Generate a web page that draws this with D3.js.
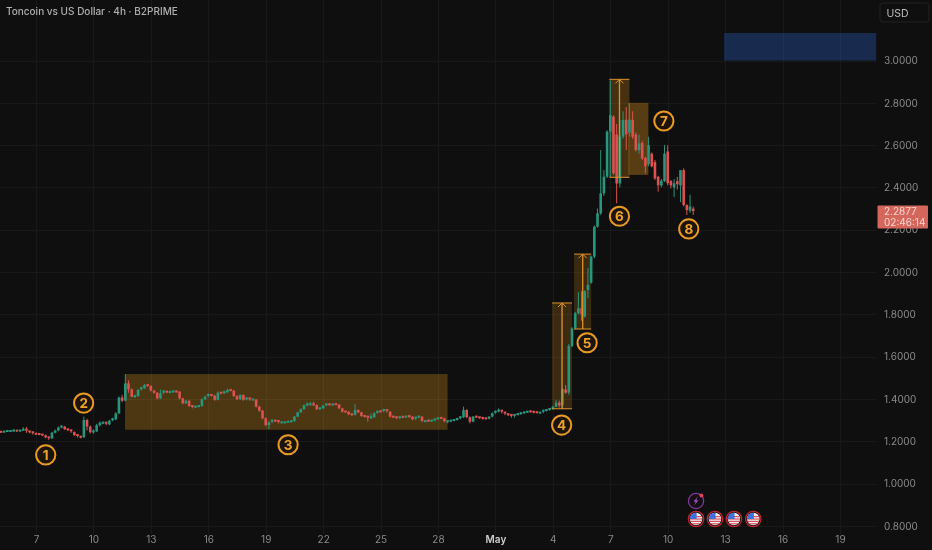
<!DOCTYPE html>
<html><head><meta charset="utf-8">
<script src="https://cdn.jsdelivr.net/npm/d3@7/dist/d3.min.js"></script>
<style>
html,body{margin:0;padding:0;background:#0f0f0f;overflow:hidden}
svg{display:block;font-family:Inter,"Noto Sans",sans-serif;filter:blur(0.35px)}
</style></head><body>
<svg id="c" width="932" height="550"></svg>
<script>
const titleText="Toncoin vs US Dollar · 4h · B2PRIME";
const currency="USD";
const lastPrice="2.2877";
const countdown="02:46:14";
const priceTicks=[3.0,2.8,2.6,2.4,2.2,2.0,1.8,1.6,1.4,1.2,1.0,0.8];
const dateTickDays=[0,3,6,9,12,15,18,21,24,27,30,33,36,39,42];
const dateTickLabels=["7","10","13","16","19","22","25","28","May","4","7","10","13","16","19"];

const opens=[1.245,1.243,1.246,1.249,1.249,1.251,1.249,1.251,1.255,1.247,
1.243,1.236,1.235,1.232,1.229,1.219,1.214,1.241,1.251,1.265,
1.270,1.257,1.252,1.244,1.230,1.222,1.219,1.301,1.270,1.243,
1.247,1.277,1.286,1.288,1.280,1.298,1.304,1.332,1.407,1.392,
1.474,1.446,1.411,1.414,1.443,1.451,1.466,1.462,1.440,1.430,
1.403,1.427,1.435,1.431,1.433,1.436,1.435,1.403,1.380,1.392,
1.367,1.361,1.364,1.367,1.399,1.411,1.419,1.416,1.396,1.430,
1.427,1.432,1.443,1.440,1.414,1.399,1.419,1.396,1.403,1.396,
1.398,1.364,1.345,1.309,1.277,1.290,1.298,1.296,1.288,1.287,
1.290,1.293,1.295,1.317,1.337,1.352,1.370,1.374,1.375,1.372,
1.352,1.356,1.369,1.375,1.372,1.376,1.374,1.356,1.341,1.340,
1.328,1.325,1.348,1.337,1.320,1.317,1.312,1.314,1.333,1.342,
1.340,1.348,1.340,1.317,1.314,1.309,1.316,1.314,1.319,1.317,
1.304,1.312,1.317,1.294,1.298,1.296,1.298,1.304,1.311,1.309,
1.293,1.295,1.298,1.301,1.306,1.314,1.348,1.314,1.293,1.317,
1.314,1.311,1.309,1.307,1.317,1.333,1.340,1.345,1.336,1.328,
1.325,1.317,1.325,1.329,1.333,1.337,1.342,1.340,1.338,1.334,
1.336,1.345,1.348,1.353,1.364,1.383,1.370,1.445,1.430,1.651,
1.734,1.805,1.830,1.790,1.915,1.950,2.073,2.215,2.278,2.372,
2.451,2.664,2.735,2.650,2.419,2.640,2.720,2.660,2.720,2.650,
2.577,2.610,2.540,2.510,2.560,2.520,2.450,2.410,2.430,2.570,
2.430,2.400,2.430,2.410,2.482,2.317,2.290,2.300];
const highs=[1.250,1.250,1.254,1.253,1.257,1.254,1.254,1.267,1.268,1.250,
1.246,1.240,1.238,1.235,1.232,1.222,1.245,1.256,1.270,1.276,
1.272,1.260,1.255,1.247,1.233,1.226,1.317,1.307,1.275,1.256,
1.283,1.294,1.294,1.293,1.302,1.312,1.338,1.412,1.420,1.518,
1.488,1.450,1.420,1.448,1.458,1.472,1.470,1.465,1.443,1.432,
1.445,1.442,1.438,1.440,1.442,1.441,1.437,1.406,1.396,1.394,
1.370,1.368,1.372,1.403,1.417,1.426,1.421,1.420,1.436,1.433,
1.440,1.449,1.446,1.443,1.418,1.423,1.422,1.408,1.406,1.402,
1.400,1.368,1.349,1.314,1.296,1.303,1.302,1.299,1.293,1.294,
1.296,1.299,1.320,1.340,1.356,1.375,1.384,1.386,1.388,1.375,
1.360,1.373,1.378,1.378,1.379,1.379,1.376,1.359,1.344,1.343,
1.331,1.377,1.351,1.340,1.323,1.320,1.332,1.337,1.345,1.346,
1.354,1.351,1.343,1.320,1.318,1.318,1.320,1.322,1.325,1.320,
1.316,1.322,1.319,1.299,1.303,1.300,1.306,1.312,1.314,1.311,
1.298,1.300,1.303,1.309,1.317,1.364,1.352,1.318,1.320,1.320,
1.316,1.314,1.312,1.320,1.337,1.345,1.356,1.348,1.339,1.331,
1.328,1.329,1.332,1.336,1.340,1.344,1.345,1.343,1.341,1.339,
1.349,1.352,1.357,1.368,1.396,1.393,1.447,1.466,1.660,1.740,
1.812,1.905,1.910,1.915,2.020,2.078,2.220,2.300,2.577,2.482,
2.670,2.905,2.740,2.700,2.720,2.760,2.780,2.797,2.760,2.660,
2.650,2.620,2.545,2.640,2.565,2.530,2.455,2.440,2.600,2.600,
2.435,2.440,2.450,2.482,2.490,2.320,2.365,2.310];
const lows=[1.240,1.241,1.244,1.245,1.245,1.246,1.246,1.249,1.240,1.238,
1.232,1.232,1.229,1.226,1.215,1.207,1.212,1.238,1.248,1.262,
1.254,1.249,1.240,1.226,1.218,1.214,1.217,1.252,1.238,1.236,
1.245,1.270,1.281,1.276,1.277,1.295,1.300,1.330,1.385,1.390,
1.430,1.408,1.405,1.410,1.440,1.448,1.458,1.436,1.425,1.398,
1.400,1.424,1.428,1.428,1.430,1.430,1.398,1.375,1.376,1.362,
1.356,1.358,1.360,1.364,1.395,1.408,1.412,1.392,1.394,1.423,
1.424,1.429,1.436,1.410,1.396,1.396,1.392,1.394,1.392,1.392,
1.360,1.340,1.304,1.272,1.257,1.286,1.292,1.284,1.285,1.284,
1.287,1.290,1.293,1.314,1.334,1.349,1.366,1.370,1.368,1.348,
1.348,1.353,1.366,1.370,1.370,1.371,1.353,1.336,1.337,1.324,
1.321,1.322,1.334,1.316,1.313,1.293,1.305,1.312,1.330,1.336,
1.337,1.336,1.313,1.310,1.305,1.306,1.310,1.312,1.312,1.300,
1.301,1.309,1.292,1.290,1.292,1.293,1.294,1.301,1.305,1.291,
1.286,1.291,1.295,1.298,1.304,1.311,1.310,1.285,1.290,1.310,
1.307,1.303,1.303,1.304,1.314,1.330,1.337,1.332,1.324,1.320,
1.312,1.312,1.322,1.326,1.330,1.334,1.336,1.332,1.332,1.331,
1.333,1.342,1.345,1.350,1.361,1.360,1.360,1.425,1.420,1.645,
1.728,1.800,1.770,1.785,1.876,1.945,2.065,2.210,2.270,2.360,
2.445,2.450,2.460,2.325,2.400,2.630,2.577,2.640,2.630,2.570,
2.560,2.530,2.467,2.500,2.495,2.435,2.380,2.400,2.425,2.410,
2.395,2.355,2.390,2.330,2.310,2.270,2.280,2.270];
const closes=[1.243,1.246,1.249,1.249,1.251,1.249,1.251,1.255,1.247,1.243,
1.236,1.235,1.232,1.229,1.219,1.214,1.241,1.251,1.265,1.270,
1.257,1.252,1.244,1.230,1.222,1.219,1.301,1.270,1.243,1.247,
1.277,1.288,1.288,1.280,1.298,1.304,1.332,1.407,1.392,1.474,
1.446,1.411,1.414,1.443,1.451,1.466,1.462,1.440,1.430,1.403,
1.427,1.435,1.433,1.433,1.436,1.435,1.403,1.380,1.392,1.367,
1.361,1.364,1.367,1.399,1.411,1.419,1.416,1.396,1.430,1.427,
1.432,1.443,1.440,1.414,1.399,1.419,1.396,1.403,1.396,1.398,
1.364,1.345,1.309,1.277,1.290,1.298,1.296,1.288,1.290,1.290,
1.293,1.295,1.317,1.337,1.352,1.370,1.374,1.375,1.372,1.352,
1.356,1.369,1.375,1.374,1.374,1.374,1.356,1.340,1.340,1.328,
1.325,1.348,1.337,1.320,1.317,1.314,1.314,1.333,1.340,1.340,
1.348,1.340,1.317,1.314,1.309,1.314,1.314,1.317,1.317,1.304,
1.312,1.317,1.296,1.296,1.296,1.298,1.304,1.309,1.309,1.295,
1.295,1.298,1.301,1.306,1.314,1.348,1.314,1.293,1.317,1.314,
1.311,1.307,1.307,1.317,1.333,1.340,1.345,1.336,1.328,1.325,
1.317,1.325,1.329,1.333,1.337,1.340,1.340,1.336,1.336,1.336,
1.345,1.348,1.353,1.364,1.383,1.370,1.447,1.430,1.651,1.734,
1.805,1.829,1.800,1.910,1.940,2.073,2.215,2.278,2.372,2.451,
2.664,2.742,2.467,2.419,2.640,2.719,2.650,2.720,2.640,2.577,
2.608,2.537,2.500,2.600,2.500,2.443,2.410,2.432,2.560,2.420,
2.410,2.420,2.415,2.482,2.317,2.293,2.310,2.288];

// zones: days from 7 Apr (start,end), prices (top,bottom), measure arrow day (or null)
const zoneStart=[4.65,26.96,28.11,29.95,30.95];
const zoneEnd=[21.5,28.0,29.0,31.0,31.99];
const zoneTop=[1.518,1.854,2.085,2.911,2.80];
const zoneBottom=[1.255,1.354,1.731,2.448,2.459];
const zoneArrow=[null,27.48,28.56,30.48,null];
const zoneAlpha=[0.28,0.19,0.19,0.24,0.32];
const targetZone=[35.95,43.89,3.13,3.0];

const markerLabels=["1","2","3","4","5","6","7","8"];
const markerDays=[0.509,2.49,13.17,27.46,28.79,30.48,32.8,34.1];
const markerPrices=[1.136,1.381,1.184,1.277,1.666,2.264,2.714,2.204];
const flagEventDays=[34.48,35.47,36.46,37.47];
const boltEventDay=34.48;

const dayMs=864e5, base=Date.UTC(2025,3,7);
const D=d=>new Date(base+d*dayMs);
const firstCandle=-1.8333;
const x=d3.scaleUtc().domain([D(0),D(42)]).range([36,840]);
const y=d3.scaleLinear().domain([3,0.8]).range([60.5,526]);
const svg=d3.select("#c");
svg.append("rect").attr("width",932).attr("height",550).attr("fill","#0f0f0f");

// grid
const grid=svg.append("g").attr("stroke","#191919").attr("stroke-width",1);
grid.selectAll("line.h").data(priceTicks).join("line").attr("class","h")
  .attr("x1",0).attr("x2",876).attr("y1",d=>Math.round(y(d))+.5).attr("y2",d=>Math.round(y(d))+.5);
grid.selectAll("line.v").data(dateTickDays).join("line").attr("class","v")
  .attr("y1",0).attr("y2",534).attr("x1",d=>Math.round(x(D(d)))+.5).attr("x2",d=>Math.round(x(D(d)))+.5);

// zones (behind candles)
const zg=svg.append("g");
zg.selectAll("rect").data(zoneStart).join("rect")
  .attr("x",(d,i)=>x(D(d))).attr("width",(d,i)=>x(D(zoneEnd[i]))-x(D(d)))
  .attr("y",(d,i)=>y(zoneTop[i])).attr("height",(d,i)=>y(zoneBottom[i])-y(zoneTop[i]))
  .attr("fill",(d,i)=>`rgba(242,160,30,${zoneAlpha[i]})`);
svg.append("rect").attr("x",x(D(targetZone[0]))).attr("width",x(D(targetZone[1]))-x(D(targetZone[0])))
  .attr("y",y(targetZone[2])).attr("height",y(targetZone[3])-y(targetZone[2])).attr("fill","rgba(41,82,170,0.42)");

// candles
const up="#27967c", down="#dc5250";
const idx=d3.range(closes.length);
const cx=i=>x(D(firstCandle+i/6));
const cg=svg.append("g");
cg.selectAll("line").data(idx).join("line")
  .attr("x1",cx).attr("x2",cx).attr("y1",i=>y(highs[i])).attr("y2",i=>y(lows[i]))
  .attr("stroke",i=>closes[i]>=opens[i]?up:down).attr("stroke-width",1);
cg.selectAll("rect").data(idx).join("rect")
  .attr("x",i=>cx(i)-1.3).attr("width",2.6)
  .attr("y",i=>Math.min(y(opens[i]),y(closes[i]))-(Math.abs(y(opens[i])-y(closes[i]))<2?1:0))
  .attr("height",i=>Math.max(2,Math.abs(y(opens[i])-y(closes[i]))))
  .attr("fill",i=>closes[i]>=opens[i]?up:down);

// measure arrows
zoneArrow.forEach((a,i)=>{ if(a===null) return;
  const g=svg.append("g").attr("stroke","#e0922a").attr("fill","none");
  const ax=x(D(a)), t=y(zoneTop[i]), b=y(zoneBottom[i]), l=x(D(zoneStart[i])), r=x(D(zoneEnd[i]));
  g.append("line").attr("x1",ax).attr("x2",ax).attr("y1",t).attr("y2",b).attr("stroke-width",1.3);
  g.append("line").attr("x1",l).attr("x2",r).attr("y1",t).attr("y2",t).attr("stroke-width",1);
  g.append("line").attr("x1",l).attr("x2",r).attr("y1",b).attr("y2",b).attr("stroke-width",1);
  g.append("path").attr("d",`M${ax-4},${t+4}L${ax},${t}L${ax+4},${t+4}`).attr("stroke-width",1);
});

// numbered markers
const mg=svg.selectAll("g.m").data(markerLabels).join("g").attr("class","m")
  .attr("transform",(d,i)=>`translate(${x(D(markerDays[i]))},${y(markerPrices[i])})`);
mg.append("circle").attr("r",9.6).attr("fill","#1d1408").attr("stroke","#e89a22").attr("stroke-width",2);
mg.append("text").text(d=>d).attr("text-anchor","middle").attr("dy","0.36em")
  .attr("font-size",13.5).attr("font-weight",700).attr("fill","#eea32e");

// axes
const ya=d3.axisRight(y).tickValues(priceTicks).tickFormat(d3.format(".4f")).tickSize(0).tickPadding(8);
const yg=svg.append("g").attr("transform","translate(876,0)").call(ya);
yg.select(".domain").remove();
yg.selectAll("text").attr("fill","#8a8a8a").attr("font-size",10).attr("font-family","Inter,sans-serif");
const xa=d3.axisBottom(x).tickValues(dateTickDays.map(D)).tickFormat((d,i)=>dateTickLabels[i]).tickSize(0).tickPadding(0);
const xg=svg.append("g").attr("transform","translate(0,536)").call(xa);
xg.select(".domain").remove();
xg.selectAll("text").attr("fill",(d,i)=>dateTickLabels[i]==="May"?"#cfcfcf":"#8a8a8a")
  .attr("font-weight",(d,i)=>dateTickLabels[i]==="May"?600:400)
  .attr("font-size",10).attr("font-family","Inter,sans-serif");

// title
svg.append("text").text(titleText).attr("x",6).attr("y",15).attr("fill","#b0b0b0")
  .attr("font-size",10).attr("font-weight",500);

// currency button
svg.append("rect").attr("x",880).attr("y",3).attr("width",49).attr("height",19).attr("rx",3)
  .attr("fill","#0f0f0f").attr("stroke","#222");
svg.append("text").text(currency).attr("x",886.5).attr("y",16.5).attr("fill","#bdbdbd").attr("font-size",10.5);

// last price tag
svg.append("rect").attr("x",877.5).attr("y",205.5).attr("width",50.5).attr("height",23).attr("rx",1).attr("fill","#d4665c");
svg.append("text").text(lastPrice).attr("x",884).attr("y",215).attr("fill","#f9d6d0").attr("font-size",10);
svg.append("text").text(countdown).attr("x",884).attr("y",226).attr("fill","#f9d6d0").attr("font-size",10);

// event icons
const defs=svg.append("defs");
flagEventDays.forEach((d,i)=>{
  const fx=x(D(d)), fy=519;
  defs.append("clipPath").attr("id","f"+i).append("circle").attr("cx",fx).attr("cy",fy).attr("r",6.2);
  svg.append("circle").attr("cx",fx).attr("cy",fy).attr("r",7.7).attr("fill","#0f0f0f").attr("stroke","#b92730").attr("stroke-width",1.3);
  const g=svg.append("g").attr("clip-path",`url(#f${i})`);
  g.append("rect").attr("x",fx-7).attr("y",fy-7).attr("width",14).attr("height",14).attr("fill","#eef0f4");
  [-3,-0.6,1.8,4.2].forEach(o=>g.append("rect").attr("x",fx-7).attr("y",fy+o).attr("width",14).attr("height",1.2).attr("fill","#d9505a"));
  g.append("rect").attr("x",fx-7).attr("y",fy-7).attr("width",7.6).attr("height",7).attr("fill","#3f6fd8");
});
const bx=x(D(boltEventDay));
svg.append("circle").attr("cx",bx).attr("cy",501).attr("r",7.6).attr("fill","#141014").attr("stroke","#7d3a9e").attr("stroke-width",1.3);
svg.append("path").attr("d",`M${bx+1.8},${501-4.5}L${bx-2.5},${501+0.8}L${bx-0.2},${501+0.8}L${bx-1.8},${501+4.5}L${bx+2.5},${501-0.8}L${bx+0.2},${501-0.8}Z`).attr("fill","#a64fd0");
svg.append("circle").attr("cx",bx+5.3).attr("cy",495.5).attr("r",1.9).attr("fill","#ea3f50");
</script>
</body></html>
